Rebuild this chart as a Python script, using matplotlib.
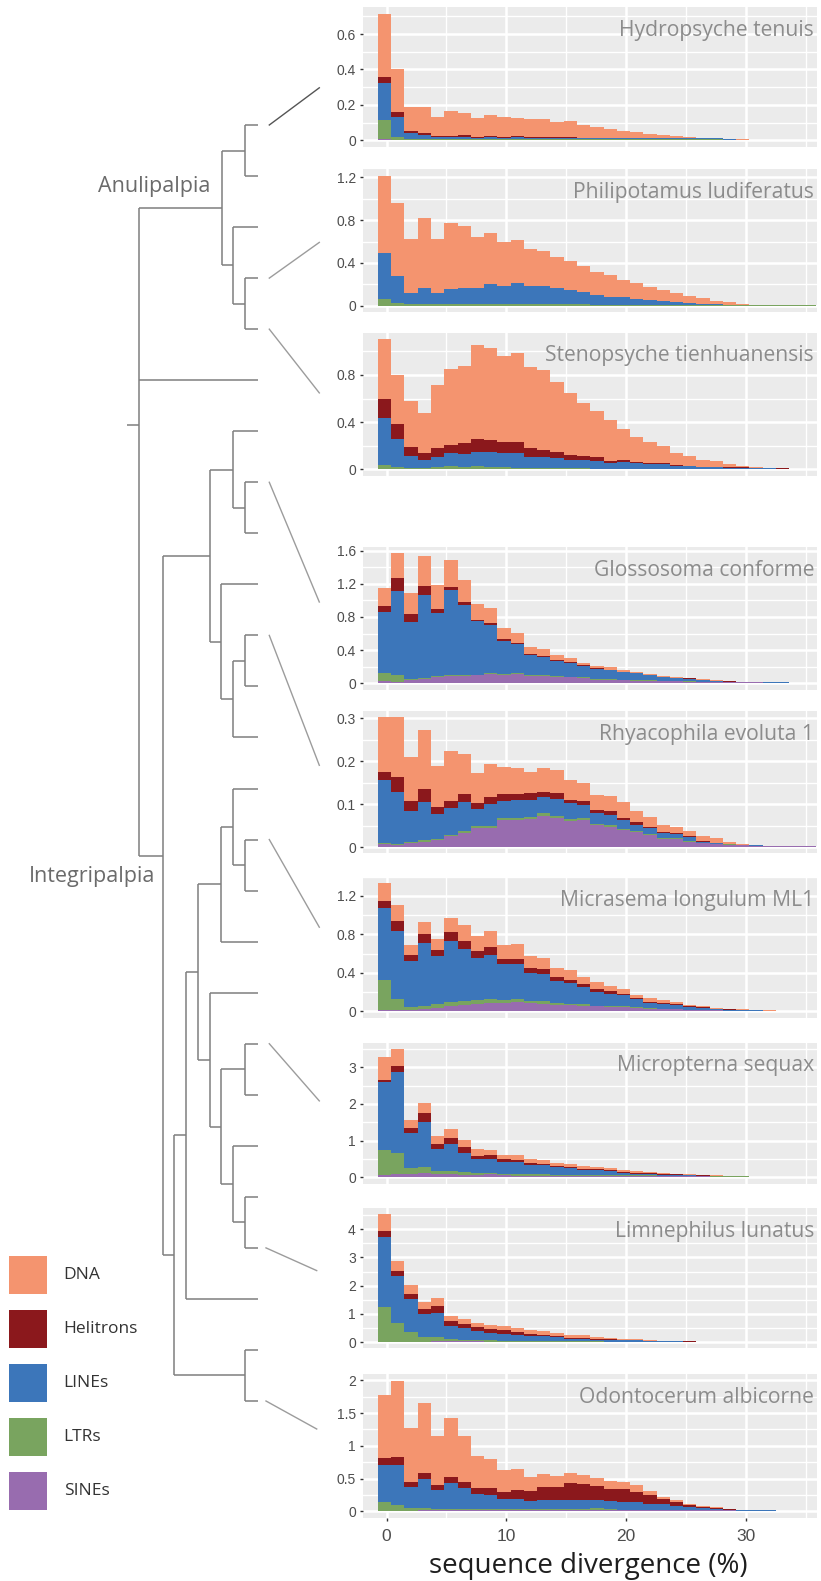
# TE landscapes (stacked repeat divergence histograms) next to the caddisfly tree

import numpy as np
import matplotlib.pyplot as plt

W, H = 821, 1581

layers = ["SINEs", "LTRs", "LINEs", "Helitrons", "DNA"]          # bottom -> top
colors = {"DNA": "#F4946F", "Helitrons": "#8B181C", "LINEs": "#3C76BA",
          "LTRs": "#79A45F", "SINEs": "#986CAF"}
legend_order = ["DNA", "Helitrons", "LINEs", "LTRs", "SINEs"]

# upper edge of every layer in each bin (cumulative)
tenuis = {
    "SINEs": [0.006,0.004,0.004,0.004,0.004,0.004,0.004,0.004,0.004,0.004,0.004,0.004,0.004,0.004,0.004,0.004,0.004,0.004,0.004,0.004,0.004,0.004,0.004,0.004,0.004,0.004,0.003,0.003,0.003,0.002,0.002,0,0],
    "LTRs": [0.115,0.021,0.008,0.008,0.008,0.008,0.008,0.008,0.008,0.008,0.008,0.007,0.007,0.006,0.006,0.006,0.005,0.005,0.005,0.005,0.005,0.005,0.005,0.005,0.005,0.005,0.004,0.003,0.003,0.002,0.002,0,0],
    "LINEs": [0.323,0.13,0.041,0.032,0.021,0.021,0.021,0.015,0.021,0.015,0.021,0.012,0.015,0.013,0.013,0.013,0.013,0.013,0.013,0.013,0.013,0.011,0.011,0.011,0.011,0.011,0.005,0.004,0.004,0.003,0.002,0,0],
    "Helitrons": [0.36,0.16,0.053,0.041,0.026,0.026,0.032,0.021,0.026,0.021,0.026,0.017,0.021,0.016,0.016,0.015,0.014,0.013,0.013,0.013,0.013,0.011,0.011,0.011,0.011,0.011,0.005,0.004,0.004,0.003,0.002,0,0],
    "DNA": [0.715,0.40,0.19,0.19,0.13,0.165,0.155,0.125,0.143,0.13,0.125,0.12,0.12,0.103,0.108,0.087,0.075,0.064,0.053,0.047,0.036,0.030,0.024,0.019,0.014,0.013,0.008,0.005,0.004,0.003,0.002,0,0],
}
philopotamus = {
    "SINEs": [0.0] * 33,
    "LTRs": [0.062,0.025] + [0.012] * 14 + [0.004] * 17,
    "LINEs": [0.493,0.277,0.118,0.165,0.118,0.156,0.165,0.165,0.203,0.184,0.212,0.184,0.184,0.165,0.147,0.128,0.1,0.081,0.081,0.062,0.053,0.044,0.034,0.025,0.016,0.016,0.009,0.006,0.003,0.003,0.003,0.003,0.003],
    "Helitrons": [0.493,0.277,0.118,0.165,0.118,0.156,0.165,0.165,0.203,0.184,0.212,0.184,0.184,0.165,0.147,0.128,0.1,0.081,0.081,0.062,0.053,0.044,0.034,0.025,0.016,0.016,0.009,0.006,0.003,0.003,0.003,0.003,0.003],
    "DNA": [1.216,0.963,0.623,0.82,0.623,0.773,0.745,0.642,0.68,0.595,0.614,0.53,0.511,0.455,0.418,0.371,0.315,0.287,0.24,0.212,0.175,0.147,0.118,0.09,0.072,0.044,0.034,0.016,0.009,0.009,0.003,0.003,0.003],
}
stenopsyche = {
    "SINEs": [0.003] * 33,
    "LTRs": [0.037,0.02,0.014,0.011,0.02,0.028,0.02,0.028,0.02,0.02,0.014,0.011,0.011,0.011,0.011,0.011] + [0.006] * 17,
    "LINEs": [0.435,0.257,0.113,0.079,0.105,0.139,0.13,0.147,0.147,0.139,0.139,0.105,0.105,0.096,0.079,0.079,0.071,0.054,0.062,0.054,0.045,0.045,0.028,0.028,0.02,0.02,0.014,0.014,0.008,0.007,0.006,0.004,0.004],
    "Helitrons": [0.596,0.384,0.189,0.139,0.181,0.206,0.223,0.257,0.249,0.232,0.232,0.181,0.164,0.147,0.122,0.113,0.105,0.071,0.079,0.062,0.054,0.054,0.037,0.028,0.023,0.023,0.017,0.017,0.011,0.009,0.008,0.005,0.005],
    "DNA": [1.105,0.80,0.58,0.478,0.715,0.851,0.876,1.054,1.029,0.961,0.987,0.868,0.842,0.741,0.647,0.563,0.495,0.418,0.342,0.274,0.232,0.198,0.139,0.113,0.079,0.071,0.045,0.028,0.02,0.014,0.011,0.006,0.006],
}
glossosoma = {
    "SINEs": [0.028,0.016,0.04,0.052,0.07,0.084,0.092,0.095,0.112,0.105,0.115,0.085,0.085,0.074,0.072,0.062,0.04,0.04,0.036,0.032,0.028,0.028,0.024,0.02,0.016,0.016,0.012,0.012,0.012,0.008,0.008,0.008,0.008],
    "LTRs": [0.125,0.096,0.052,0.065,0.085,0.095,0.105,0.105,0.125,0.115,0.125,0.095,0.095,0.082,0.08,0.07,0.052,0.05,0.042,0.04,0.034,0.032,0.03,0.024,0.018,0.016,0.013,0.013,0.012,0.009,0.008,0.008,0.008],
    "LINEs": [0.86,1.114,0.74,1.065,0.848,1.126,0.945,0.752,0.704,0.511,0.474,0.342,0.318,0.269,0.245,0.209,0.173,0.161,0.137,0.125,0.1,0.076,0.064,0.052,0.04,0.028,0.02,0.016,0.016,0.016,0.012,0.008,0.008],
    "Helitrons": [0.933,1.27,0.836,1.174,0.896,1.162,0.981,0.764,0.728,0.535,0.486,0.354,0.33,0.281,0.257,0.221,0.18,0.165,0.14,0.128,0.102,0.078,0.066,0.058,0.042,0.03,0.022,0.017,0.016,0.016,0.012,0.008,0.008],
    "DNA": [1.15,1.572,1.089,1.54,1.186,1.491,1.246,0.961,0.909,0.667,0.607,0.438,0.414,0.342,0.306,0.245,0.209,0.197,0.161,0.137,0.109,0.088,0.076,0.064,0.048,0.04,0.028,0.02,0.016,0.016,0.012,0.008,0.008],
}
rhyacophila = {
    "SINEs": [0.007,0.005,0.009,0.012,0.016,0.026,0.033,0.044,0.044,0.063,0.063,0.065,0.072,0.067,0.06,0.063,0.051,0.047,0.04,0.035,0.028,0.019,0.019,0.012,0.009,0.007,0.005,0.004,0.003,0.002,0.002,0.002,0.002],
    "LTRs": [0.009,0.008,0.012,0.016,0.019,0.028,0.037,0.049,0.049,0.067,0.067,0.07,0.079,0.072,0.065,0.067,0.053,0.051,0.042,0.037,0.03,0.021,0.021,0.015,0.01,0.008,0.006,0.004,0.003,0.002,0.002,0.002,0.002],
    "LINEs": [0.156,0.128,0.084,0.105,0.077,0.091,0.105,0.088,0.1,0.107,0.109,0.109,0.116,0.112,0.102,0.098,0.079,0.074,0.063,0.051,0.044,0.033,0.031,0.023,0.012,0.009,0.008,0.005,0.004,0.003,0.002,0.002,0.002],
    "Helitrons": [0.174,0.163,0.107,0.135,0.093,0.107,0.123,0.102,0.116,0.123,0.123,0.126,0.128,0.126,0.109,0.107,0.086,0.084,0.067,0.058,0.047,0.035,0.033,0.025,0.013,0.01,0.008,0.005,0.004,0.003,0.002,0.002,0.002],
    "DNA": [0.302,0.302,0.209,0.272,0.188,0.223,0.216,0.172,0.193,0.186,0.184,0.174,0.184,0.179,0.156,0.149,0.121,0.119,0.105,0.084,0.07,0.051,0.047,0.037,0.026,0.021,0.012,0.007,0.005,0.003,0.002,0.002,0.002],
}
micrasema = {
    "SINEs": [0.014,0.01,0.017,0.024,0.035,0.055,0.066,0.076,0.087,0.087,0.094,0.087,0.076,0.066,0.066,0.055,0.055,0.049,0.049,0.035,0.028,0.024,0.02,0.014,0.011,0.009,0.007,0.005,0.004,0.003,0.003,0.003,0.003],
    "LTRs": [0.326,0.128,0.045,0.055,0.076,0.097,0.108,0.118,0.128,0.118,0.128,0.108,0.108,0.087,0.076,0.076,0.055,0.052,0.052,0.042,0.032,0.025,0.02,0.015,0.012,0.01,0.008,0.006,0.005,0.004,0.003,0.003,0.003],
    "LINEs": [1.075,0.836,0.524,0.711,0.576,0.732,0.649,0.555,0.586,0.493,0.493,0.399,0.388,0.316,0.295,0.253,0.201,0.18,0.17,0.128,0.087,0.076,0.066,0.045,0.035,0.024,0.017,0.013,0.01,0.007,0.005,0.005,0.005],
    "Helitrons": [1.148,0.94,0.586,0.805,0.638,0.826,0.732,0.628,0.669,0.545,0.545,0.451,0.44,0.357,0.326,0.284,0.232,0.212,0.18,0.139,0.097,0.087,0.076,0.055,0.04,0.028,0.02,0.015,0.012,0.008,0.006,0.006,0.006],
    "DNA": [1.335,1.106,0.69,0.93,0.753,0.971,0.898,0.784,0.836,0.69,0.7,0.576,0.555,0.451,0.43,0.357,0.305,0.264,0.232,0.17,0.139,0.118,0.097,0.066,0.055,0.038,0.028,0.021,0.014,0.01,0.007,0.007,0.007],
}
micropterna = {
    "SINEs": [0.064,0.091,0.091,0.109,0.091,0.091,0.073,0.064,0.091,0.064,0.045,0.045,0.045,0.045,0.045,0.027,0.027,0.027,0.027,0.027,0.027,0.027,0.027,0.027,0.027,0.018,0.018,0.018,0.018,0.01,0.01,0.01,0.01],
    "LTRs": [0.745,0.664,0.255,0.282,0.173,0.173,0.145,0.118,0.118,0.091,0.091,0.091,0.091,0.073,0.073,0.055,0.055,0.055,0.055,0.05,0.05,0.045,0.045,0.04,0.035,0.03,0.027,0.025,0.018,0.01,0.01,0.01,0.01],
    "LINEs": [2.6,2.873,1.209,1.509,0.773,0.909,0.664,0.5,0.5,0.418,0.418,0.336,0.336,0.282,0.255,0.2,0.2,0.173,0.118,0.1,0.082,0.073,0.064,0.064,0.045,0.045,0.036,0.03,0.018,0.01,0.01,0.01,0.01],
    "Helitrons": [2.655,3.036,1.345,1.755,0.909,1.073,0.827,0.582,0.609,0.5,0.473,0.391,0.364,0.309,0.282,0.227,0.227,0.2,0.145,0.127,0.109,0.091,0.085,0.073,0.05,0.045,0.036,0.03,0.018,0.01,0.01,0.01,0.01],
    "DNA": [3.28,3.5,1.564,2.027,1.127,1.318,1.018,0.773,0.745,0.609,0.609,0.5,0.473,0.391,0.364,0.309,0.282,0.255,0.2,0.173,0.145,0.118,0.091,0.091,0.064,0.055,0.036,0.036,0.018,0.01,0.01,0.01,0.01],
}
limnephilus = {
    "SINEs": [0.012,0.012,0.012,0.012,0.024,0.024,0.024,0.024,0.012,0.012,0.01,0.01,0.01,0.01,0.01,0.008,0.008,0.008,0.008,0.006,0.006,0.005,0.005,0.004,0.003,0.003,0.003,0.003,0.003,0.003,0.003,0.003,0.003],
    "LTRs": [1.243,0.675,0.355,0.178,0.178,0.107,0.083,0.071,0.06,0.05,0.05,0.04,0.035,0.03,0.025,0.02,0.02,0.015,0.015,0.01,0.01,0.008,0.006,0.005,0.004,0.003,0.003,0.003,0.003,0.003,0.003,0.003,0.003],
    "LINEs": [3.728,2.343,1.527,0.994,1.03,0.568,0.497,0.391,0.32,0.284,0.249,0.213,0.213,0.178,0.107,0.107,0.083,0.083,0.059,0.059,0.036,0.03,0.024,0.015,0.008,0.004,0.004,0.004,0.004,0.004,0.004,0.004,0.004],
    "Helitrons": [3.94,2.52,1.704,1.172,1.278,0.746,0.639,0.533,0.462,0.426,0.355,0.284,0.249,0.213,0.142,0.142,0.107,0.107,0.071,0.071,0.047,0.036,0.03,0.02,0.01,0.005,0.005,0.005,0.005,0.005,0.005,0.005,0.005],
    "DNA": [4.544,2.876,2.024,1.42,1.562,0.923,0.817,0.675,0.604,0.568,0.497,0.426,0.391,0.32,0.249,0.249,0.178,0.142,0.107,0.107,0.071,0.047,0.036,0.024,0.012,0.006,0.006,0.006,0.006,0.006,0.006,0.006,0.006],
}
odontocerum = {
    "SINEs": [0.01,0.01,0.01,0.012,0.012] + [0.015] * 7 + [0.02] * 11 + [0.018,0.016,0.015,0.012,0.01,0.008,0.006,0.005,0.004,0.003],
    "LTRs": [0.142,0.097,0.051,0.051,0.036,0.03,0.03,0.03,0.03,0.03,0.03,0.03,0.03,0.03,0.03,0.03,0.051,0.036,0.025,0.025,0.025,0.025,0.022,0.02,0.018,0.015,0.012,0.01,0.008,0.006,0.005,0.004,0.003],
    "LINEs": [0.702,0.702,0.372,0.494,0.326,0.433,0.356,0.265,0.249,0.188,0.188,0.158,0.173,0.173,0.173,0.173,0.173,0.158,0.142,0.142,0.112,0.112,0.081,0.066,0.051,0.041,0.025,0.02,0.015,0.012,0.01,0.008,0.004],
    "Helitrons": [0.814,0.83,0.448,0.585,0.402,0.524,0.448,0.356,0.356,0.295,0.326,0.31,0.372,0.372,0.433,0.417,0.387,0.341,0.341,0.295,0.249,0.188,0.142,0.09,0.065,0.05,0.036,0.022,0.015,0.012,0.01,0.008,0.005],
    "DNA": [1.776,1.99,1.272,1.654,1.15,1.425,1.15,0.845,0.799,0.631,0.646,0.524,0.57,0.539,0.585,0.555,0.509,0.463,0.448,0.402,0.31,0.219,0.173,0.112,0.081,0.066,0.036,0.025,0.015,0.015,0.01,0.01,0.005],
}

species = ["Hydropsyche tenuis", "Philipotamus ludiferatus", "Stenopsyche tienhuanensis",
           "Glossosoma conforme", "Rhyacophila evoluta 1", "Micrasema longulum ML1",
           "Micropterna sequax", "Limnephilus lunatus", "Odontocerum albicorne"]
panels = [tenuis, philopotamus, stenopsyche, glossosoma, rhyacophila,
          micrasema, micropterna, limnephilus, odontocerum]
tick_step = [0.2, 0.4, 0.4, 0.4, 0.1, 0.4, 1, 1, 0.5]

bin_w = 1.1075
edges = -0.72 + bin_w * np.arange(34)

# layout in pixels
PL, PR = 363.3, 816.7
panel_box = [(7.4, 146.6), (169.2, 312.2), (332.5, 475.8), (546.5, 689.8), (710.7, 853.5),
             (876.6, 1017.7), (1042.5, 1183.7), (1207.6, 1348.4), (1374.4, 1517.8)]

fig = plt.figure(figsize=(W / 100, H / 100), dpi=100)

for i, (data, (top, bot)) in enumerate(zip(panels, panel_box)):
    ax = fig.add_axes([PL / W, 1 - bot / H, (PR - PL) / W, (bot - top) / H])
    ax.set_facecolor("#EBEBEB")
    lev = np.maximum.accumulate(np.array([data[k] for k in layers], dtype=float), axis=0)
    base = np.zeros(lev.shape[1])
    for k, name in enumerate(layers):
        ax.stairs(lev[k], edges, baseline=base, fill=True, color=colors[name], lw=0, zorder=2)
        base = lev[k]
    m = lev[-1].max()
    step = tick_step[i]
    ax.set_ylim(-0.05 * m, 1.05 * m)
    ax.set_xlim(-1.94, 35.9)
    ax.set_yticks(np.arange(0, 1.05 * m, step))
    ax.set_yticks(np.arange(step / 2, 1.05 * m, step), minor=True)
    ax.set_yticklabels(["%g" % round(v, 2) for v in np.arange(0, 1.05 * m, step)])
    ax.set_xticks([0, 10, 20, 30])
    ax.set_xticks([5, 15, 25, 35], minor=True)
    ax.grid(which="major", color="white", lw=1.8, zorder=0)
    ax.grid(which="minor", color="white", lw=1.0, zorder=0)
    ax.set_axisbelow(True)
    for s in ax.spines.values():
        s.set_visible(False)
    ax.tick_params(axis="y", which="major", length=2.4, width=1, color="#333333",
                   labelsize=10, labelcolor="#4D4D4D", pad=3)
    ax.tick_params(which="minor", length=0)
    if i < len(panels) - 1:
        ax.tick_params(axis="x", which="major", length=0, labelbottom=False)
    else:
        ax.tick_params(axis="x", which="major", length=2.4, width=1, color="#333333",
                       labelsize=12.5, labelcolor="#4D4D4D", pad=6)
    for lab in ax.get_xticklabels() + ax.get_yticklabels():
        lab.set_fontfamily("Liberation Sans")

# overlay in pixel coordinates: tree, connectors, titles, legend
ov = fig.add_axes([0, 0, 1, 1], zorder=10)
ov.set_xlim(0, W)
ov.set_ylim(H, 0)
ov.axis("off")
ov.patch.set_visible(False)

tip_x = 257.5
tip_y = 125.0 + 51.04 * np.arange(26)
tree = (138.7, [
    (221.5, [(245, [0, 1]), (233, [2, (245, [3, 4])])]),
    5,
    (162.7, [
        (209.7, [(233, [6, (245, [7, 8])]),
                 (221.3, [9, (233, [(245, [10, 11]), 12])])]),
        (174, [(185.7, [(198, [(221.3, [(233, [13, (245, [14, 15])]), 16]),
                               (209.7, [17, (221.3, [(245, [18, 19]),
                                                     (233, [20, (245, [21, 22])])])])]),
                        23]),
               (245, [24, 25])]),
    ], 855.6),
], 425.0)

tree_kw = dict(color="#7E7E7E", lw=1.1, solid_capstyle="butt")


def draw(node):
    if isinstance(node, int):
        return tip_x, tip_y[node]
    x, kids = node[0], node[1]
    pts = [draw(k) for k in kids]
    ys = [p[1] for p in pts]
    for cx, cy in pts:
        ov.plot([x, cx], [cy, cy], **tree_kw)
    ov.plot([x, x], [min(ys), max(ys)], **tree_kw)
    y = node[2] if len(node) > 2 else (ys[0] + ys[-1]) / 2
    return x, y


rx, ry = draw(tree)
ov.plot([126.7, rx], [ry, ry], **tree_kw)

ov.text(210, 191.7, "Anulipalpia", ha="right", va="baseline", fontsize=15.5,
        color="#6B6B6B", family="Open Sans")
ov.text(155, 882, "Integripalpia", ha="right", va="baseline", fontsize=15.5,
        color="#6B6B6B", family="Open Sans")

# connectors from tips to panels
conn_tip = [0, 3, 4, 7, 10, 14, 18, 22, 25]
conn_end = [87.8, 242.4, 392.9, 602, 765.3, 927.2, 1100.9, 1270.6, 1429]
for j, (t, ye) in enumerate(zip(conn_tip, conn_end)):
    x0, x1 = (269.3, 319.3) if j < 7 else (266, 316.7)
    ov.plot([x0, x1], [tip_y[t], ye], color="#555555" if j == 0 else "#9C9C9C", lw=1.0)

# species names
for name, (top, bot) in zip(species, panel_box):
    ov.text(814, top + 29, name, ha="right", va="baseline", fontsize=15.2,
            color="#8C8C8C", family="Open Sans")

ov.text(588, 1573, "sequence divergence (%)", ha="center", va="baseline", fontsize=20,
        color="#1E1E1E", family="Open Sans")

# legend
for j, name in enumerate(legend_order):
    y0 = 1256 + 54 * j
    ov.add_patch(plt.Rectangle((9, y0), 38, 37.6, color=colors[name], lw=0))
    ov.text(63.7, y0 + 18.8, name, ha="left", va="center", fontsize=12.5,
            color="#333333", family="Open Sans")

fig.savefig("out.png", dpi=100)
